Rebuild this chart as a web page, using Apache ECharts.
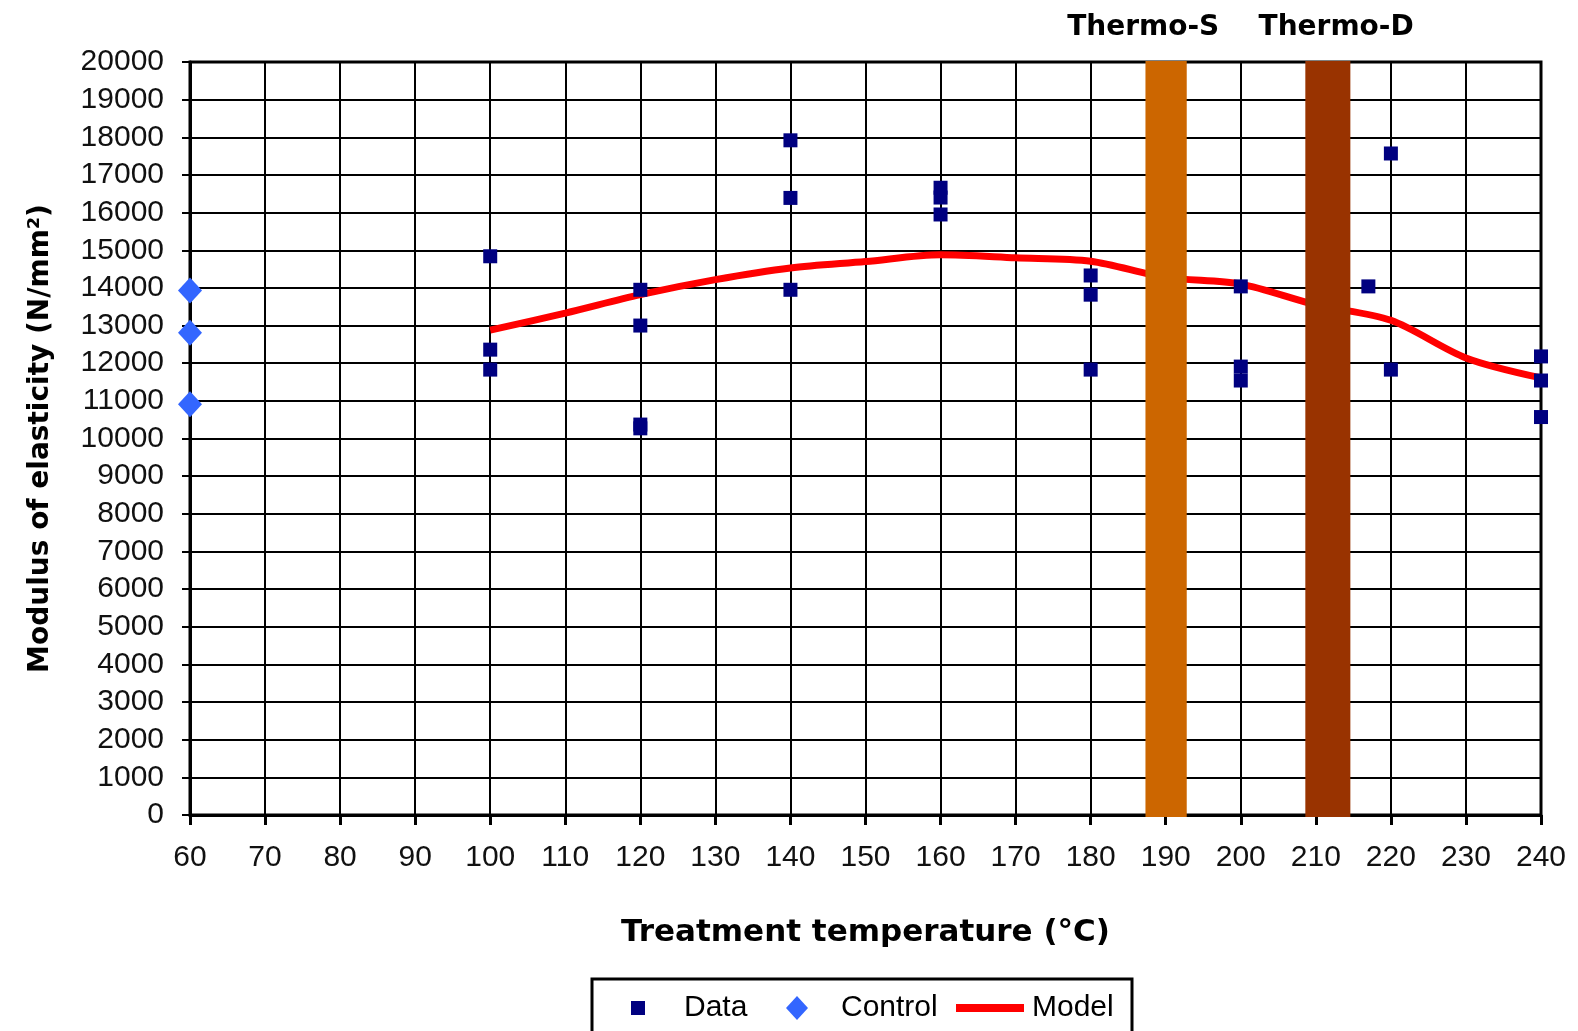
<!DOCTYPE html>
<html>
<head>
<meta charset="utf-8">
<script src="https://cdn.jsdelivr.net/npm/echarts@6/dist/echarts.min.js"></script>
<style>
  html, body { margin: 0; padding: 0; background: #fff; }
  #chart { width: 1578px; height: 1031px; }
</style>
</head>
<body>
<div id="chart"></div>
<script>
  // measured samples: treatment temperature (°C) and modulus (N/mm2)
  const dataTemp = [100, 100, 100, 120, 120, 120, 120, 140, 140, 140, 160, 160, 160,
                    180, 180, 180, 200, 200, 200, 217, 220, 220, 240, 240, 240];
  const dataMoe = [14840, 12360, 11830, 13950, 13000, 10370, 10270, 17920, 16390, 13950, 16660, 16400, 15950,
                   14330, 13820, 11830, 14040, 11910, 11540, 14040, 17570, 11830, 12180, 11540, 10570];

  // untreated control
  const controlTemp = [60, 60, 60];
  const controlMoe = [13930, 12810, 10910];

  // fitted model
  const modelTemp = [100, 110, 120, 130, 140, 150, 160, 170, 180, 190, 200, 210, 220, 230, 240];
  const modelMoe = [12880, 13330, 13820, 14220, 14530, 14700, 14880, 14800, 14710, 14280, 14100, 13550, 13140, 12140, 11610];

  // commercial process windows
  const bandNames = ['Thermo-S', 'Thermo-D'];
  const bandStart = [187.3, 208.6];
  const bandEnd = [192.8, 214.6];
  const bandLabelAt = [187.0, 212.7];
  const bandColors = ['#cc6600', '#993300'];

  const font = '"Liberation Sans", Arial, sans-serif';
  const boldFont = '"DejaVu Sans", sans-serif';

  let myChart = echarts.init(document.getElementById('chart'));

  myChart.setOption({
    animation: false,
    backgroundColor: '#fff',
    grid: {
      left: 190,
      right: 37,
      top: 62,
      bottom: 216,
      show: true,
      borderColor: '#000',
      borderWidth: 3
    },
    xAxis: {
      type: 'value',
      min: 60,
      max: 240,
      interval: 10,
      name: 'Treatment temperature (°C)',
      nameLocation: 'middle',
      nameGap: 102,
      nameTextStyle: { fontFamily: boldFont, fontWeight: 'bold', fontSize: 31, color: '#000' },
      axisLine: { show: true, onZero: false, lineStyle: { color: '#000', width: 3 } },
      axisTick: { show: true, length: 10, lineStyle: { color: '#000', width: 3 } },
      axisLabel: { margin: 28, fontFamily: font, fontSize: 30, color: '#111', formatter: v => String(v) },
      splitLine: { show: true, lineStyle: { color: '#000', width: 2 } }
    },
    yAxis: {
      type: 'value',
      min: 0,
      max: 20000,
      interval: 1000,
      name: 'Modulus of elasticity (N/mm²)',
      nameLocation: 'middle',
      nameGap: 135,
      nameTextStyle: { fontFamily: boldFont, fontWeight: 'bold', fontSize: 28, color: '#000' },
      axisLine: { show: true, onZero: false, lineStyle: { color: '#000', width: 3 } },
      axisTick: { show: true, length: 8, lineStyle: { color: '#000', width: 2 } },
      axisLabel: { margin: 26, fontFamily: font, fontSize: 30, color: '#111', formatter: v => String(v) },
      splitLine: { show: true, lineStyle: { color: '#000', width: 2 } }
    },
    legend: [
      {
        data: [{ name: 'Data', icon: 'rect' }],
        left: 631, top: 993, padding: 0,
        itemWidth: 14, itemHeight: 14,
        selectedMode: false,
        itemStyle: { borderWidth: 0 },
        textStyle: { fontFamily: font, fontSize: 30, color: '#000', padding: [0, 0, 0, 34] }
      },
      {
        data: [{ name: 'Control', icon: 'diamond' }],
        left: 786, top: 993, padding: 0,
        itemWidth: 22, itemHeight: 24,
        selectedMode: false,
        itemStyle: { borderWidth: 0 },
        textStyle: { fontFamily: font, fontSize: 30, color: '#000', padding: [0, 0, 0, 28] }
      },
      {
        data: [{ name: 'Model', icon: 'rect' }],
        left: 956, top: 993, padding: 0,
        itemWidth: 68, itemHeight: 8,
        selectedMode: false,
        itemStyle: { borderWidth: 0 },
        textStyle: { fontFamily: font, fontSize: 30, color: '#000', padding: [0, 0, 0, 3] }
      }
    ],
    graphic: [
      {
        type: 'rect',
        z: -1,
        shape: { x: 592, y: 979, width: 540, height: 80 },
        style: { fill: '#fff', stroke: '#000', lineWidth: 3 }
      }
    ],
    series: [
      {
        name: 'Model',
        type: 'line',
        z: 2,
        smooth: 0.3,
        showSymbol: false,
        symbol: 'none',
        lineStyle: { color: '#ff0000', width: 7 },
        itemStyle: { color: '#ff0000' },
        data: modelTemp.map((t, i) => [t, modelMoe[i]])
      },
      {
        name: 'Data',
        type: 'scatter',
        z: 3,
        clip: false,
        symbol: 'rect',
        symbolSize: 14,
        itemStyle: { color: '#000080', opacity: 1 },
        data: dataTemp.map((t, i) => [t, dataMoe[i]])
      },
      {
        name: 'Control',
        type: 'scatter',
        z: 3,
        clip: false,
        symbol: 'diamond',
        symbolSize: [24, 26],
        itemStyle: { color: '#3366ff', opacity: 1 },
        data: controlTemp.map((t, i) => [t, controlMoe[i]])
      },
      {
        name: 'bands',
        type: 'custom',
        z: 10,
        silent: true,
        data: bandStart.map((s, i) => [s, bandEnd[i], bandLabelAt[i]]),
        renderItem: function (params, api) {
          let i = params.dataIndex;
          let tl = api.coord([api.value(0), 20000]);
          let br = api.coord([api.value(1), 0]);
          let lab = api.coord([api.value(2), 20000]);
          return {
            type: 'group',
            children: [
              {
                type: 'rect',
                shape: { x: tl[0], y: tl[1] - 1, width: br[0] - tl[0], height: br[1] - tl[1] + 3 },
                style: { fill: bandColors[i] }
              },
              {
                type: 'text',
                x: lab[0],
                y: tl[1] - 34,
                style: {
                  text: bandNames[i],
                  align: 'center',
                  verticalAlign: 'middle',
                  font: 'bold 28px ' + boldFont,
                  fill: '#000'
                }
              }
            ]
          };
        }
      }
    ]
  });
</script>
</body>
</html>
